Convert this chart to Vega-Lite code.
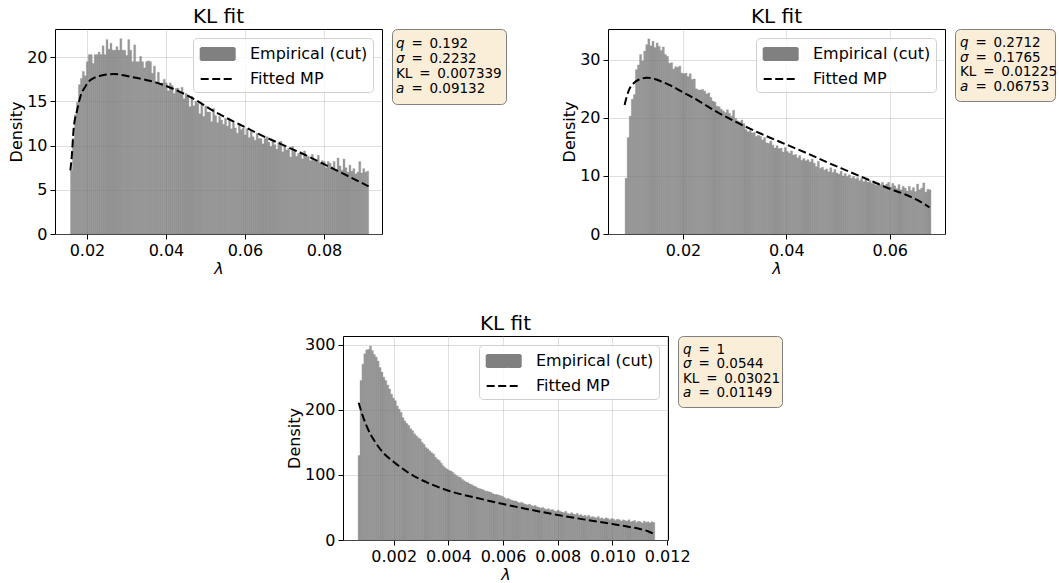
{
"$schema": "https://vega.github.io/schema/vega-lite/v6.json",
"padding": {"left": 8, "top": 6, "right": 0, "bottom": 0},
"config": {
  "font": "DejaVu Sans",
  "view": {"stroke": "#000000", "strokeWidth": 1},
  "title": {"fontSize": 20, "font": "DejaVu Sans", "fontWeight": "normal", "color": "#000000", "offset": 2},
  "axis": {"labelFont": "DejaVu Sans", "labelFontSize": 16, "labelColor": "#000000", "titleFont": "DejaVu Sans", "titleFontSize": 16, "titleFontWeight": "normal", "titleColor": "#000000", "tickColor": "#000000", "tickSize": 5, "tickWidth": 1, "domain": false, "grid": true, "gridColor": "#b0b0b0", "gridOpacity": 0.5, "gridWidth": 0.8, "labelOverlap": false, "labelFlush": false, "labelBound": false, "labelPadding": 3, "titlePadding": 2},
  "legend": {"orient": "top-right", "offset": 9, "padding": 5, "rowPadding": 4, "symbolSize": 400, "labelOffset": 30, "labelFont": "DejaVu Sans", "labelFontSize": 16, "labelColor": "#000000", "fillColor": "rgba(255,255,255,0.8)", "strokeColor": "#d0d0d0", "cornerRadius": 4},
  "text": {"font": "DejaVu Sans", "fontSize": 13.5, "color": "#000000", "align": "left", "baseline": "middle"}
},
"datasets": {
"h1": [{"x":0.0157,"d":7.2},{"x":0.0162,"d":10.8},{"x":0.0167,"d":13.5},{"x":0.0172,"d":14.9},{"x":0.0177,"d":16.9},{"x":0.0182,"d":17.6},{"x":0.0187,"d":18.4},{"x":0.0192,"d":17.9},{"x":0.0197,"d":19.5},{"x":0.0202,"d":20.3},
{"x":0.0207,"d":20.3},{"x":0.0212,"d":19.3},{"x":0.0217,"d":20.3},{"x":0.0222,"d":20.3},{"x":0.0227,"d":20.6},{"x":0.0232,"d":20.3},{"x":0.0237,"d":21.3},{"x":0.0242,"d":20.3},{"x":0.0247,"d":22.0},{"x":0.0252,"d":20.9},
{"x":0.0257,"d":21.6},{"x":0.0262,"d":20.8},{"x":0.0267,"d":20.8},{"x":0.0272,"d":21.2},{"x":0.0277,"d":20.8},{"x":0.0282,"d":22.1},{"x":0.0287,"d":20.8},{"x":0.0292,"d":20.8},{"x":0.0297,"d":20.2},{"x":0.0302,"d":22.0},
{"x":0.0307,"d":20.8},{"x":0.0312,"d":19.5},{"x":0.0317,"d":21.4},{"x":0.0322,"d":19.5},{"x":0.0327,"d":19.5},{"x":0.0332,"d":20.1},{"x":0.0337,"d":19.5},{"x":0.0342,"d":18.8},{"x":0.0347,"d":19.5},{"x":0.0352,"d":19.6},
{"x":0.0357,"d":19.5},{"x":0.0362,"d":18.2},{"x":0.0367,"d":19.0},{"x":0.0372,"d":17.1},{"x":0.0377,"d":18.3},{"x":0.0382,"d":17.1},{"x":0.0387,"d":17.1},{"x":0.0392,"d":17.5},{"x":0.0397,"d":17.1},{"x":0.0402,"d":16.2},
{"x":0.0407,"d":17.1},{"x":0.0412,"d":16.8},{"x":0.0417,"d":15.9},{"x":0.0422,"d":16.5},{"x":0.0427,"d":16.5},{"x":0.0432,"d":16.0},{"x":0.0437,"d":16.6},{"x":0.0442,"d":15.3},{"x":0.0447,"d":15.9},{"x":0.0452,"d":15.7},
{"x":0.0457,"d":14.4},{"x":0.0462,"d":15.6},{"x":0.0467,"d":14.5},{"x":0.0472,"d":15.0},{"x":0.0477,"d":14.8},{"x":0.0482,"d":13.6},{"x":0.0487,"d":14.7},{"x":0.0492,"d":13.3},{"x":0.0497,"d":14.5},{"x":0.0502,"d":13.8},
{"x":0.0507,"d":13.8},{"x":0.0512,"d":12.7},{"x":0.0517,"d":14.2},{"x":0.0522,"d":13.4},{"x":0.0527,"d":12.6},{"x":0.0532,"d":13.3},{"x":0.0537,"d":12.9},{"x":0.0542,"d":12.4},{"x":0.0547,"d":13.1},{"x":0.0552,"d":12.2},
{"x":0.0557,"d":12.9},{"x":0.0562,"d":11.9},{"x":0.0567,"d":12.6},{"x":0.0572,"d":12.0},{"x":0.0577,"d":11.4},{"x":0.0582,"d":12.5},{"x":0.0587,"d":11.8},{"x":0.0592,"d":12.0},{"x":0.0597,"d":11.2},{"x":0.0602,"d":11.9},
{"x":0.0607,"d":10.9},{"x":0.0612,"d":11.6},{"x":0.0617,"d":11.0},{"x":0.0622,"d":10.6},{"x":0.0627,"d":11.4},{"x":0.0632,"d":10.8},{"x":0.0637,"d":10.8},{"x":0.0642,"d":10.2},{"x":0.0647,"d":10.8},{"x":0.0652,"d":11.0},
{"x":0.0657,"d":10.4},{"x":0.0662,"d":9.9},{"x":0.0667,"d":10.5},{"x":0.0672,"d":10.1},{"x":0.0677,"d":9.6},{"x":0.0682,"d":10.4},{"x":0.0687,"d":10.5},{"x":0.0692,"d":9.3},{"x":0.0697,"d":9.9},{"x":0.0702,"d":9.5},
{"x":0.0707,"d":9.7},{"x":0.0712,"d":8.7},{"x":0.0717,"d":9.9},{"x":0.0722,"d":9.5},{"x":0.0727,"d":8.8},{"x":0.0732,"d":9.1},{"x":0.0737,"d":9.3},{"x":0.0742,"d":8.5},{"x":0.0747,"d":9.4},{"x":0.0752,"d":8.7},
{"x":0.0757,"d":8.8},{"x":0.0762,"d":8.3},{"x":0.0767,"d":9.0},{"x":0.0772,"d":8.3},{"x":0.0777,"d":8.2},{"x":0.0782,"d":8.9},{"x":0.0787,"d":8.0},{"x":0.0792,"d":8.3},{"x":0.0797,"d":8.2},{"x":0.0802,"d":7.5},
{"x":0.0807,"d":8.2},{"x":0.0812,"d":8.0},{"x":0.0817,"d":7.6},{"x":0.0822,"d":8.2},{"x":0.0827,"d":7.3},{"x":0.0832,"d":8.6},{"x":0.0837,"d":7.7},{"x":0.0842,"d":7.2},{"x":0.0847,"d":8.5},{"x":0.0852,"d":7.5},
{"x":0.0857,"d":7.0},{"x":0.0862,"d":7.8},{"x":0.0867,"d":7.1},{"x":0.0872,"d":7.4},{"x":0.0877,"d":6.8},{"x":0.0882,"d":7.0},{"x":0.0887,"d":8.2},{"x":0.0892,"d":6.9},{"x":0.0897,"d":7.4},{"x":0.0902,"d":7.0},
{"x":0.0907,"d":7.1}],
"f1": [{"x":0.0158,"d":7.2},{"x":0.0162,"d":9.1},{"x":0.0166,"d":11.8},{"x":0.0175,"d":14.0},{"x":0.0183,"d":15.5},{"x":0.0196,"d":16.7},{"x":0.0208,"d":17.4},{"x":0.0234,"d":17.9},{"x":0.0268,"d":18.1},{"x":0.031,"d":17.8},{"x":0.0378,"d":17.1},{"x":0.0462,"d":15.5},{"x":0.0521,"d":13.9},{"x":0.06,"d":12.1},{"x":0.065,"d":11.0},{"x":0.07,"d":10.0},{"x":0.075,"d":9.0},{"x":0.08,"d":7.9},{"x":0.085,"d":6.8},{"x":0.0913,"d":5.4}],
"h2": [{"x":0.0087,"d":9.6},{"x":0.0091,"d":16.6},{"x":0.0095,"d":20.3},{"x":0.0099,"d":23.2},{"x":0.0103,"d":24.0},{"x":0.0107,"d":28.3},{"x":0.0111,"d":29.1},{"x":0.0115,"d":30.9},{"x":0.0119,"d":29.8},{"x":0.0123,"d":31.5},
{"x":0.0127,"d":32.6},{"x":0.0131,"d":33.6},{"x":0.0135,"d":32.4},{"x":0.0139,"d":33.2},{"x":0.0143,"d":32.1},{"x":0.0147,"d":32.9},{"x":0.0151,"d":32.3},{"x":0.0155,"d":31.6},{"x":0.0159,"d":32.2},{"x":0.0163,"d":30.9},
{"x":0.0167,"d":30.6},{"x":0.0171,"d":29.4},{"x":0.0175,"d":29.5},{"x":0.0179,"d":28.4},{"x":0.0183,"d":28.8},{"x":0.0187,"d":28.7},{"x":0.0191,"d":28.9},{"x":0.0195,"d":27.7},{"x":0.0199,"d":27.6},{"x":0.0203,"d":27.7},
{"x":0.0207,"d":27.1},{"x":0.0211,"d":27.6},{"x":0.0215,"d":26.6},{"x":0.0219,"d":26.7},{"x":0.0223,"d":25.0},{"x":0.0227,"d":24.8},{"x":0.0231,"d":24.8},{"x":0.0235,"d":24.9},{"x":0.0239,"d":24.6},{"x":0.0243,"d":24.1},
{"x":0.0247,"d":24.3},{"x":0.0251,"d":23.5},{"x":0.0255,"d":22.9},{"x":0.0259,"d":22.7},{"x":0.0263,"d":22.0},{"x":0.0267,"d":21.9},{"x":0.0271,"d":21.5},{"x":0.0275,"d":21.2},{"x":0.0279,"d":20.9},{"x":0.0283,"d":21.4},
{"x":0.0287,"d":20.8},{"x":0.0291,"d":20.3},{"x":0.0295,"d":21.3},{"x":0.0299,"d":19.9},{"x":0.0303,"d":19.5},{"x":0.0307,"d":19.3},{"x":0.0311,"d":19.6},{"x":0.0315,"d":19.0},{"x":0.0319,"d":18.0},{"x":0.0323,"d":17.6},
{"x":0.0327,"d":17.8},{"x":0.0331,"d":17.4},{"x":0.0335,"d":17.5},{"x":0.0339,"d":16.8},{"x":0.0343,"d":17.0},{"x":0.0347,"d":16.8},{"x":0.0351,"d":16.2},{"x":0.0355,"d":16.6},{"x":0.0359,"d":15.7},{"x":0.0363,"d":15.6},
{"x":0.0367,"d":16.0},{"x":0.0371,"d":15.3},{"x":0.0375,"d":14.8},{"x":0.0379,"d":15.2},{"x":0.0383,"d":14.7},{"x":0.0387,"d":14.8},{"x":0.0391,"d":14.1},{"x":0.0395,"d":14.9},{"x":0.0399,"d":14.2},{"x":0.0403,"d":13.9},
{"x":0.0407,"d":14.3},{"x":0.0411,"d":13.6},{"x":0.0415,"d":13.7},{"x":0.0419,"d":13.1},{"x":0.0423,"d":13.5},{"x":0.0427,"d":12.7},{"x":0.0431,"d":13.0},{"x":0.0435,"d":12.6},{"x":0.0439,"d":12.8},{"x":0.0443,"d":12.4},
{"x":0.0447,"d":12.9},{"x":0.0451,"d":12.2},{"x":0.0455,"d":11.6},{"x":0.0459,"d":12.5},{"x":0.0463,"d":11.3},{"x":0.0467,"d":11.5},{"x":0.0471,"d":11.0},{"x":0.0475,"d":11.2},{"x":0.0479,"d":10.7},{"x":0.0483,"d":11.4},
{"x":0.0487,"d":10.6},{"x":0.0491,"d":11.1},{"x":0.0495,"d":10.5},{"x":0.0499,"d":10.3},{"x":0.0503,"d":10.8},{"x":0.0507,"d":10.0},{"x":0.0511,"d":10.4},{"x":0.0515,"d":9.9},{"x":0.0519,"d":10.2},{"x":0.0523,"d":9.6},
{"x":0.0527,"d":9.9},{"x":0.0531,"d":9.5},{"x":0.0535,"d":9.7},{"x":0.0539,"d":9.2},{"x":0.0543,"d":9.6},{"x":0.0547,"d":9.0},{"x":0.0551,"d":9.4},{"x":0.0555,"d":8.9},{"x":0.0559,"d":9.2},{"x":0.0563,"d":8.7},
{"x":0.0567,"d":9.1},{"x":0.0571,"d":8.4},{"x":0.0575,"d":8.8},{"x":0.0579,"d":8.5},{"x":0.0583,"d":8.9},{"x":0.0587,"d":8.2},{"x":0.0591,"d":8.6},{"x":0.0595,"d":8.9},{"x":0.0599,"d":8.1},{"x":0.0603,"d":8.7},
{"x":0.0607,"d":8.3},{"x":0.0611,"d":7.8},{"x":0.0615,"d":8.5},{"x":0.0619,"d":7.6},{"x":0.0623,"d":8.2},{"x":0.0627,"d":7.9},{"x":0.0631,"d":7.4},{"x":0.0635,"d":8.2},{"x":0.0639,"d":7.5},{"x":0.0643,"d":8.0},
{"x":0.0647,"d":7.3},{"x":0.0651,"d":8.6},{"x":0.0655,"d":7.6},{"x":0.0659,"d":7.9},{"x":0.0663,"d":8.8},{"x":0.0667,"d":7.2},{"x":0.0671,"d":7.7},{"x":0.0675,"d":7.6}],
"f2": [{"x":0.0087,"d":22.2},{"x":0.0091,"d":23.6},{"x":0.0095,"d":24.7},{"x":0.0105,"d":26.0},{"x":0.0115,"d":26.6},{"x":0.013,"d":26.9},{"x":0.0145,"d":26.7},{"x":0.016,"d":26.2},{"x":0.018,"d":25.4},{"x":0.02,"d":24.4},{"x":0.0227,"d":23.1},{"x":0.026,"d":21.3},{"x":0.03,"d":19.4},{"x":0.035,"d":17.3},{"x":0.04,"d":15.4},{"x":0.044,"d":13.9},{"x":0.048,"d":12.3},{"x":0.052,"d":10.8},{"x":0.056,"d":9.3},{"x":0.06,"d":7.8},{"x":0.063,"d":6.8},{"x":0.065,"d":6.0},{"x":0.0677,"d":4.6}],
"h3": [{"x":0.00068,"d":130},{"x":0.00075,"d":245},{"x":0.00082,"d":270},{"x":0.00089,"d":286},{"x":0.00096,"d":292},{"x":0.00103,"d":293},{"x":0.0011,"d":298},{"x":0.00117,"d":291},{"x":0.00124,"d":285},{"x":0.00131,"d":281},
{"x":0.00138,"d":275},{"x":0.00145,"d":265},{"x":0.00152,"d":258},{"x":0.00159,"d":250},{"x":0.00166,"d":245},{"x":0.00173,"d":238},{"x":0.0018,"d":232},{"x":0.00187,"d":224},{"x":0.00194,"d":218},{"x":0.00201,"d":214},
{"x":0.00208,"d":206},{"x":0.00215,"d":201},{"x":0.00222,"d":196},{"x":0.00229,"d":188},{"x":0.00236,"d":183},{"x":0.00243,"d":179},{"x":0.0025,"d":176},{"x":0.00257,"d":171},{"x":0.00264,"d":168},{"x":0.00271,"d":163},
{"x":0.00278,"d":160},{"x":0.00285,"d":157},{"x":0.00292,"d":155},{"x":0.00299,"d":150},{"x":0.00306,"d":147},{"x":0.00313,"d":142},{"x":0.0032,"d":140},{"x":0.00327,"d":137},{"x":0.00334,"d":134},{"x":0.00341,"d":132},
{"x":0.00348,"d":127},{"x":0.00355,"d":124},{"x":0.00362,"d":122},{"x":0.00369,"d":118},{"x":0.00376,"d":114},{"x":0.00383,"d":111},{"x":0.0039,"d":109},{"x":0.00397,"d":107},{"x":0.00404,"d":106},{"x":0.00411,"d":104},
{"x":0.00418,"d":101},{"x":0.00425,"d":99},{"x":0.00432,"d":97},{"x":0.00439,"d":96},{"x":0.00446,"d":93},{"x":0.00453,"d":91},{"x":0.0046,"d":89},{"x":0.00467,"d":88},{"x":0.00474,"d":86},{"x":0.00481,"d":85},
{"x":0.00488,"d":83},{"x":0.00495,"d":82},{"x":0.00502,"d":80},{"x":0.00509,"d":79},{"x":0.00516,"d":78},{"x":0.00523,"d":77},{"x":0.0053,"d":75},{"x":0.00537,"d":75},{"x":0.00544,"d":74},{"x":0.00551,"d":73},
{"x":0.00558,"d":71},{"x":0.00565,"d":70},{"x":0.00572,"d":70},{"x":0.00579,"d":69},{"x":0.00586,"d":68},{"x":0.00593,"d":67},{"x":0.006,"d":65},{"x":0.00607,"d":63},{"x":0.00614,"d":64},{"x":0.00621,"d":62},
{"x":0.00628,"d":61},{"x":0.00635,"d":60},{"x":0.00642,"d":60},{"x":0.00649,"d":58},{"x":0.00656,"d":57},{"x":0.00663,"d":58},{"x":0.0067,"d":56},{"x":0.00677,"d":55},{"x":0.00684,"d":54},{"x":0.00691,"d":55},
{"x":0.00698,"d":53},{"x":0.00705,"d":52},{"x":0.00712,"d":53},{"x":0.00719,"d":51},{"x":0.00726,"d":50},{"x":0.00733,"d":49},{"x":0.0074,"d":50},{"x":0.00747,"d":48},{"x":0.00754,"d":47},{"x":0.00761,"d":48},
{"x":0.00768,"d":46},{"x":0.00775,"d":47},{"x":0.00782,"d":45},{"x":0.00789,"d":44},{"x":0.00796,"d":46},{"x":0.00803,"d":44},{"x":0.0081,"d":43},{"x":0.00817,"d":42},{"x":0.00824,"d":44},{"x":0.00831,"d":41},
{"x":0.00838,"d":40},{"x":0.00845,"d":42},{"x":0.00852,"d":40},{"x":0.00859,"d":39},{"x":0.00866,"d":41},{"x":0.00873,"d":38},{"x":0.0088,"d":39},{"x":0.00887,"d":37},{"x":0.00894,"d":38},{"x":0.00901,"d":36},
{"x":0.00908,"d":38},{"x":0.00915,"d":35},{"x":0.00922,"d":36},{"x":0.00929,"d":35},{"x":0.00936,"d":34},{"x":0.00943,"d":36},{"x":0.0095,"d":33},{"x":0.00957,"d":34},{"x":0.00964,"d":32},{"x":0.00971,"d":34},
{"x":0.00978,"d":33},{"x":0.00985,"d":31},{"x":0.00992,"d":33},{"x":0.00999,"d":32},{"x":0.01006,"d":30},{"x":0.01013,"d":32},{"x":0.0102,"d":31},{"x":0.01027,"d":29},{"x":0.01034,"d":31},{"x":0.01041,"d":30},
{"x":0.01048,"d":29},{"x":0.01055,"d":31},{"x":0.01062,"d":28},{"x":0.01069,"d":29},{"x":0.01076,"d":30},{"x":0.01083,"d":27},{"x":0.0109,"d":29},{"x":0.01097,"d":28},{"x":0.01104,"d":26},{"x":0.01111,"d":29},
{"x":0.01118,"d":27},{"x":0.01125,"d":28},{"x":0.01132,"d":26},{"x":0.01139,"d":28},{"x":0.01146,"d":27}],
"f3": [{"x":0.00072,"d":211},{"x":0.00085,"d":193},{"x":0.001,"d":176},{"x":0.0013,"d":152},{"x":0.0016,"d":135},{"x":0.002,"d":120},{"x":0.0025,"d":104.5},{"x":0.003,"d":92.6},{"x":0.0035,"d":83.5},{"x":0.004,"d":75.7},{"x":0.005,"d":65},{"x":0.006,"d":55.3},{"x":0.007,"d":46.5},{"x":0.008,"d":38.4},{"x":0.009,"d":31.3},{"x":0.01,"d":24.6},{"x":0.0105,"d":21},{"x":0.011,"d":16.8},{"x":0.0113,"d":13.5},{"x":0.0115,"d":9.5}],
"t1": [{"k":1,"s":"q","r":"=\u20020.192"},{"k":2,"s":"σ","r":"=\u20020.2232"},{"k":3,"s":"KL","r":"=\u20020.007339"},{"k":4,"s":"a","r":"=\u20020.09132"}],
"t2": [{"k":1,"s":"q","r":"=\u20020.2712"},{"k":2,"s":"σ","r":"=\u20020.1765"},{"k":3,"s":"KL","r":"=\u20020.01225"},{"k":4,"s":"a","r":"=\u20020.06753"}],
"t3": [{"k":1,"s":"q","r":"=\u20021"},{"k":2,"s":"σ","r":"=\u20020.0544"},{"k":3,"s":"KL","r":"=\u20020.03021"},{"k":4,"s":"a","r":"=\u20020.01149"}]
},
"spacing": 36,
"resolve": {"scale": {"x": "independent", "y": "independent", "color": "independent"}, "legend": {"color": "independent"}},
"vconcat": [
{
  "hconcat": [
    {
      "width": 327, "height": 205, "title": "KL fit",
      "layer": [
        {"data": {"name": "h1"}, "mark": {"type": "bar", "opacity": 0.8, "stroke": "#6e6e6e", "strokeWidth": 0.3, "binSpacing": 0},
         "encoding": {
           "x": {"field": "x", "type": "quantitative", "bin": {"binned": true, "step": 0.0005}, "scale": {"domain": [0.0119, 0.0947], "nice": false, "zero": false}, "axis": {"values": [0.02, 0.04, 0.06, 0.08], "format": ".2f", "title": "λ", "titleFontStyle": "italic"}},
           "y": {"field": "d", "type": "quantitative", "scale": {"domain": [0, 23.2], "nice": false}, "axis": {"values": [0, 5, 10, 15, 20], "title": "Density"}},
           "color": {"datum": "Empirical (cut)", "type": "nominal", "scale": {"domain": ["Empirical (cut)", "Fitted MP"], "range": ["#808080", "#000000"]},
             "legend": {"title": null, "labelExpr": "datum.label + '\u00a0'", "encode": {"symbols": {"update": {
               "shape": {"signal": "datum.value === 'Fitted MP' ? 'M-0.83,0H2.57' : 'M-0.83,-0.6H2.57V0.6H-0.83Z'"},
               "fill": {"signal": "datum.value === 'Fitted MP' ? 'transparent' : '#999999'"},
               "stroke": {"signal": "datum.value === 'Fitted MP' ? '#000000' : 'transparent'"},
               "strokeDash": {"signal": "datum.value === 'Fitted MP' ? [8, 3.5] : [1, 0]"},
               "strokeWidth": {"value": 2}, "opacity": {"value": 1}}}}}}
         }},
        {"data": {"name": "f1"}, "mark": {"type": "line", "strokeDash": [8, 3.5], "strokeWidth": 2, "interpolate": "monotone"},
         "encoding": {"x": {"field": "x", "type": "quantitative"}, "y": {"field": "d", "type": "quantitative"},
           "color": {"datum": "Fitted MP", "type": "nominal",
             "legend": {"title": null, "labelExpr": "datum.label + '\u00a0'", "encode": {"symbols": {"update": {
               "shape": {"signal": "datum.value === 'Fitted MP' ? 'M-0.83,0H2.57' : 'M-0.83,-0.6H2.57V0.6H-0.83Z'"},
               "fill": {"signal": "datum.value === 'Fitted MP' ? 'transparent' : '#999999'"},
               "stroke": {"signal": "datum.value === 'Fitted MP' ? '#000000' : 'transparent'"},
               "strokeDash": {"signal": "datum.value === 'Fitted MP' ? [8, 3.5] : [1, 0]"},
               "strokeWidth": {"value": 2}, "opacity": {"value": 1}}}}}}}}
      ]
    },
    {
      "width": 114, "height": 75,
      "view": {"fill": "#faeed9", "stroke": "#808080", "strokeWidth": 1, "cornerRadius": 5},
      "data": {"name": "t1"},
      "encoding": {
        "x": {"datum": 0, "type": "quantitative", "scale": {"domain": [0, 1]}, "axis": null},
        "y": {"field": "k", "type": "ordinal", "scale": {"type": "point", "padding": 1.1}, "axis": null}
      },
      "layer": [
        {"transform": [{"filter": "datum.k != 3"}], "mark": {"type": "text", "dx": 4, "fontStyle": "italic"}, "encoding": {"text": {"field": "s"}}},
        {"transform": [{"filter": "datum.k == 3"}], "mark": {"type": "text", "dx": 4}, "encoding": {"text": {"field": "s"}}},
        {"transform": [{"filter": "datum.k != 3"}], "mark": {"type": "text", "dx": 19.4}, "encoding": {"text": {"field": "r"}}},
        {"transform": [{"filter": "datum.k == 3"}], "mark": {"type": "text", "dx": 27.2}, "encoding": {"text": {"field": "r"}}}
      ]
    },
    {
      "width": 82, "height": 10, "view": {"stroke": null},
      "data": {"values": [{}]},
      "mark": {"type": "text", "text": ""},
      "encoding": {}
    },
    {
      "width": 337, "height": 205, "title": "KL fit",
      "layer": [
        {"data": {"name": "h2"}, "mark": {"type": "bar", "opacity": 0.8, "stroke": "#6e6e6e", "strokeWidth": 0.3, "binSpacing": 0},
         "encoding": {
           "x": {"field": "x", "type": "quantitative", "bin": {"binned": true, "step": 0.0004}, "scale": {"domain": [0.00549, 0.0707], "nice": false, "zero": false}, "axis": {"values": [0.02, 0.04, 0.06], "format": ".2f", "title": "λ", "titleFontStyle": "italic"}},
           "y": {"field": "d", "type": "quantitative", "scale": {"domain": [0, 35.3], "nice": false}, "axis": {"values": [0, 10, 20, 30], "title": "Density"}},
           "color": {"datum": "Empirical (cut)", "type": "nominal", "scale": {"domain": ["Empirical (cut)", "Fitted MP"], "range": ["#808080", "#000000"]},
             "legend": {"title": null, "labelExpr": "datum.label + '\u00a0'", "encode": {"symbols": {"update": {
               "shape": {"signal": "datum.value === 'Fitted MP' ? 'M-0.83,0H2.57' : 'M-0.83,-0.6H2.57V0.6H-0.83Z'"},
               "fill": {"signal": "datum.value === 'Fitted MP' ? 'transparent' : '#999999'"},
               "stroke": {"signal": "datum.value === 'Fitted MP' ? '#000000' : 'transparent'"},
               "strokeDash": {"signal": "datum.value === 'Fitted MP' ? [8, 3.5] : [1, 0]"},
               "strokeWidth": {"value": 2}, "opacity": {"value": 1}}}}}}
         }},
        {"data": {"name": "f2"}, "mark": {"type": "line", "strokeDash": [8, 3.5], "strokeWidth": 2, "interpolate": "monotone"},
         "encoding": {"x": {"field": "x", "type": "quantitative"}, "y": {"field": "d", "type": "quantitative"},
           "color": {"datum": "Fitted MP", "type": "nominal",
             "legend": {"title": null, "labelExpr": "datum.label + '\u00a0'", "encode": {"symbols": {"update": {
               "shape": {"signal": "datum.value === 'Fitted MP' ? 'M-0.83,0H2.57' : 'M-0.83,-0.6H2.57V0.6H-0.83Z'"},
               "fill": {"signal": "datum.value === 'Fitted MP' ? 'transparent' : '#999999'"},
               "stroke": {"signal": "datum.value === 'Fitted MP' ? '#000000' : 'transparent'"},
               "strokeDash": {"signal": "datum.value === 'Fitted MP' ? [8, 3.5] : [1, 0]"},
               "strokeWidth": {"value": 2}, "opacity": {"value": 1}}}}}}}}
      ]
    },
    {
      "width": 100, "height": 72,
      "view": {"fill": "#faeed9", "stroke": "#808080", "strokeWidth": 1, "cornerRadius": 5},
      "data": {"name": "t2"},
      "encoding": {
        "x": {"datum": 0, "type": "quantitative", "scale": {"domain": [0, 1]}, "axis": null},
        "y": {"field": "k", "type": "ordinal", "scale": {"type": "point", "padding": 1.1}, "axis": null}
      },
      "layer": [
        {"transform": [{"filter": "datum.k != 3"}], "mark": {"type": "text", "dx": 5, "fontStyle": "italic"}, "encoding": {"text": {"field": "s"}}},
        {"transform": [{"filter": "datum.k == 3"}], "mark": {"type": "text", "dx": 5}, "encoding": {"text": {"field": "s"}}},
        {"transform": [{"filter": "datum.k != 3"}], "mark": {"type": "text", "dx": 20.4}, "encoding": {"text": {"field": "r"}}},
        {"transform": [{"filter": "datum.k == 3"}], "mark": {"type": "text", "dx": 28.2}, "encoding": {"text": {"field": "r"}}}
      ]
    }
  ],
  "spacing": 10, "bounds": "flush",
  "resolve": {"scale": {"x": "independent", "y": "independent", "color": "independent"}, "legend": {"color": "independent"}}
},
{
  "hconcat": [
    {
      "width": 278, "height": 10, "view": {"stroke": null},
      "data": {"values": [{}]},
      "mark": {"type": "text", "text": ""},
      "encoding": {}
    },
    {
      "width": 325, "height": 204, "title": "KL fit",
      "layer": [
        {"data": {"name": "h3"}, "mark": {"type": "bar", "opacity": 0.8, "stroke": "#6e6e6e", "strokeWidth": 0.3, "binSpacing": 0},
         "encoding": {
           "x": {"field": "x", "type": "quantitative", "bin": {"binned": true, "step": 0.00007}, "scale": {"domain": [0.000147, 0.01203], "nice": false, "zero": false}, "axis": {"values": [0.002, 0.004, 0.006, 0.008, 0.010, 0.012], "format": ".3f", "title": "λ", "titleFontStyle": "italic"}},
           "y": {"field": "d", "type": "quantitative", "scale": {"domain": [0, 313.4], "nice": false}, "axis": {"values": [0, 100, 200, 300], "title": "Density"}},
           "color": {"datum": "Empirical (cut)", "type": "nominal", "scale": {"domain": ["Empirical (cut)", "Fitted MP"], "range": ["#808080", "#000000"]},
             "legend": {"title": null, "labelExpr": "datum.label + '\u00a0'", "encode": {"symbols": {"update": {
               "shape": {"signal": "datum.value === 'Fitted MP' ? 'M-0.83,0H2.57' : 'M-0.83,-0.6H2.57V0.6H-0.83Z'"},
               "fill": {"signal": "datum.value === 'Fitted MP' ? 'transparent' : '#999999'"},
               "stroke": {"signal": "datum.value === 'Fitted MP' ? '#000000' : 'transparent'"},
               "strokeDash": {"signal": "datum.value === 'Fitted MP' ? [8, 3.5] : [1, 0]"},
               "strokeWidth": {"value": 2}, "opacity": {"value": 1}}}}}}
         }},
        {"data": {"name": "f3"}, "mark": {"type": "line", "strokeDash": [8, 3.5], "strokeWidth": 2, "interpolate": "monotone"},
         "encoding": {"x": {"field": "x", "type": "quantitative"}, "y": {"field": "d", "type": "quantitative"},
           "color": {"datum": "Fitted MP", "type": "nominal",
             "legend": {"title": null, "labelExpr": "datum.label + '\u00a0'", "encode": {"symbols": {"update": {
               "shape": {"signal": "datum.value === 'Fitted MP' ? 'M-0.83,0H2.57' : 'M-0.83,-0.6H2.57V0.6H-0.83Z'"},
               "fill": {"signal": "datum.value === 'Fitted MP' ? 'transparent' : '#999999'"},
               "stroke": {"signal": "datum.value === 'Fitted MP' ? '#000000' : 'transparent'"},
               "strokeDash": {"signal": "datum.value === 'Fitted MP' ? [8, 3.5] : [1, 0]"},
               "strokeWidth": {"value": 2}, "opacity": {"value": 1}}}}}}}}
      ]
    },
    {
      "width": 104, "height": 71,
      "view": {"fill": "#faeed9", "stroke": "#808080", "strokeWidth": 1, "cornerRadius": 5},
      "data": {"name": "t3"},
      "encoding": {
        "x": {"datum": 0, "type": "quantitative", "scale": {"domain": [0, 1]}, "axis": null},
        "y": {"field": "k", "type": "ordinal", "scale": {"type": "point", "padding": 1.1}, "axis": null}
      },
      "layer": [
        {"transform": [{"filter": "datum.k != 3"}], "mark": {"type": "text", "dx": 5, "fontStyle": "italic"}, "encoding": {"text": {"field": "s"}}},
        {"transform": [{"filter": "datum.k == 3"}], "mark": {"type": "text", "dx": 5}, "encoding": {"text": {"field": "s"}}},
        {"transform": [{"filter": "datum.k != 3"}], "mark": {"type": "text", "dx": 20.4}, "encoding": {"text": {"field": "r"}}},
        {"transform": [{"filter": "datum.k == 3"}], "mark": {"type": "text", "dx": 28.2}, "encoding": {"text": {"field": "r"}}}
      ]
    }
  ],
  "spacing": 10, "bounds": "flush",
  "resolve": {"scale": {"x": "independent", "y": "independent", "color": "independent"}, "legend": {"color": "independent"}}
}
]
}
